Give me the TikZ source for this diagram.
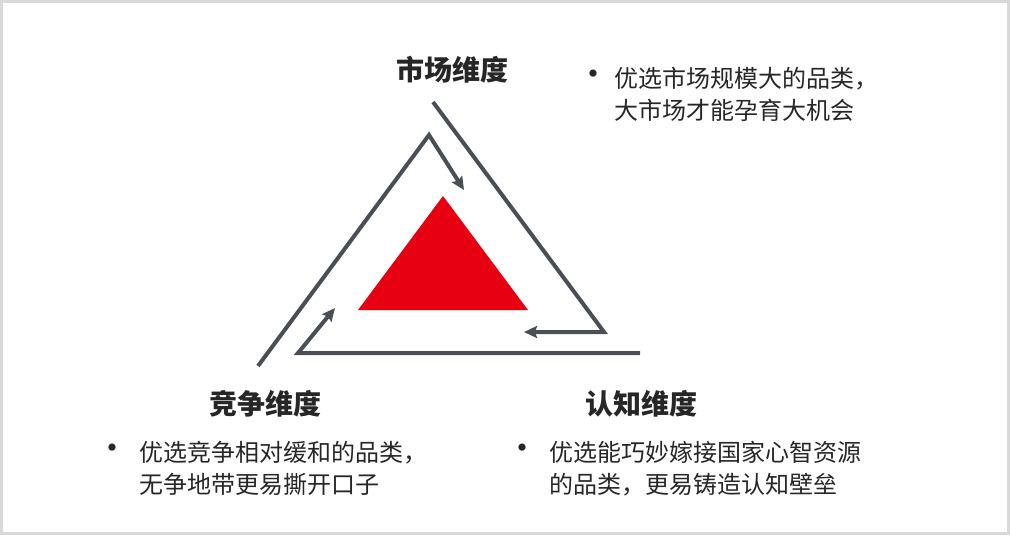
\documentclass[tikz,border=0pt]{standalone}
\usepackage{fontspec}
\usetikzlibrary{arrows.meta}
\setmainfont{Noto Sans CJK SC}
\definecolor{slategray}{RGB}{74, 79, 86}
\definecolor{signalred}{RGB}{230, 0, 18}
\definecolor{framegray}{RGB}{217, 217, 217}
\definecolor{inkgray}{RGB}{38, 38, 38}

\tikzset{
  flow/.style={color=slategray, line width=4pt},
  flowtip/.style={flow, -{Stealth[length=13pt, width=12pt, inset=2pt]}},
  heading/.style={anchor=base, inner sep=0pt, text=inkgray, font=\fontsize{28}{32}\selectfont\bfseries},
  blurb/.style={anchor=base west, inner sep=0pt, align=left, text=inkgray, font=\fontsize{24}{32}\selectfont},
  dot/.style={anchor=center, inner sep=0pt, text=inkgray, font=\fontsize{34}{34}\selectfont}
}

\begin{document}
\begin{tikzpicture}[x=1pt, y=-1pt]
            % Frame
            \useasboundingbox (0,0) rectangle (1011,536);
            \draw[color=framegray, line width=2.5pt] (1.25,1.25) rectangle (1008.5,533.5);
            % Core triangle
            \fill[color=signalred] (443,196) -- (358,310) -- (528,310) -- cycle;
            % Outer loop
            \draw[flowtip] (433,102) -- (604,332) -- (524,332);
            \draw[flowtip] (258,366) -- (429,135) -- (464,190);
            \draw[flowtip] (640,353) -- (298,353) -- (335,308);
            % Headings
            \node[heading] (market)  at (452,80)  {市场维度};
            \node[heading] (compete) at (265,414) {竞争维度};
            \node[heading] (mind)    at (641,414) {认知维度};
            % Notes (base = last line)
            \node[dot]   (marketdot)  at (593,78)  {•};
            \node[blurb] (marketnote) at (614,119) {优选市场规模大的品类，\\大市场才能孕育大机会};
            \node[dot]   (competedot)  at (112,452) {•};
            \node[blurb] (competenote) at (139,493) {优选竞争相对缓和的品类，\\无争地带更易撕开口子};
            \node[dot]   (minddot)  at (522,452) {•};
            \node[blurb] (mindnote) at (549,493) {优选能巧妙嫁接国家心智资源\\的品类，更易铸造认知壁垒};
        \end{tikzpicture}
\end{document}
